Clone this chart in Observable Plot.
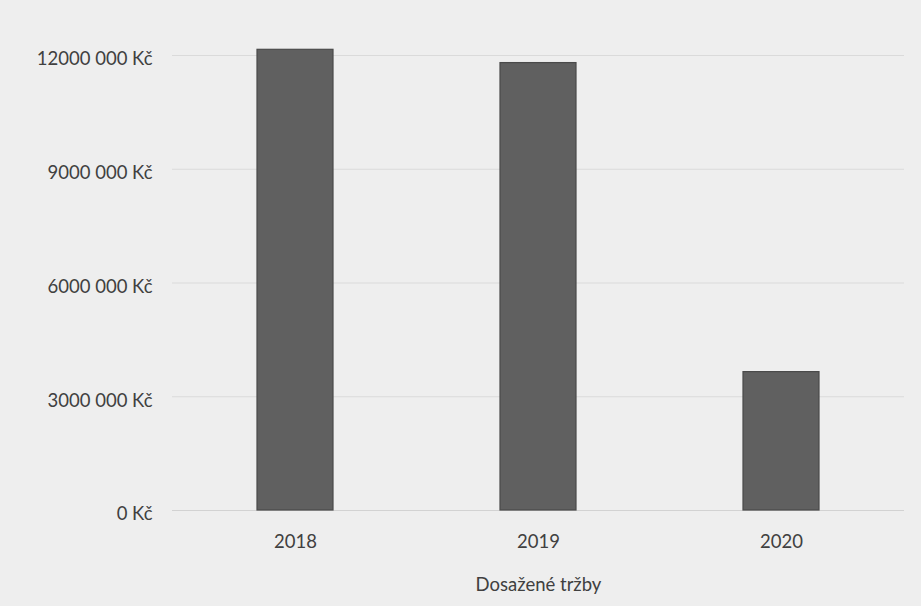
<!DOCTYPE html>
<html>
<head>
<meta charset="utf-8">
<script src="https://cdn.jsdelivr.net/npm/d3@7"></script>
<script src="https://cdn.jsdelivr.net/npm/@observablehq/plot@0.6"></script>
<style>
  html, body { margin: 0; padding: 0; background: #eeeeee; }
  #chart svg { display: block; }
</style>
</head>
<body>
<div id="chart"></div>
<script>
const years = ["2018", "2019", "2020"];
const revenue = [12150000, 11800000, 3650000];
const yTicks = [0, 3000000, 6000000, 9000000, 12000000];
const yTickLabels = ["0 Kč", "3000 000 Kč", "6000 000 Kč", "9000 000 Kč", "12000 000 Kč"];
const xTitle = "Dosažené tržby";

const data = years.map((y, i) => ({year: y, value: revenue[i]}));
const labelOf = new Map(yTicks.map((t, i) => [t, yTickLabels[i]]));

const chart = Plot.plot({
  width: 921,
  height: 606,
  marginLeft: 172,
  marginRight: 17,
  marginTop: 55,
  marginBottom: 96,
  style: {background: "#eeeeee", fontFamily: "Lato, 'Open Sans', sans-serif", fontSize: "18.5px", color: "#404040"},
  x: {domain: years, paddingInner: 0.689, paddingOuter: 0.345},
  y: {domain: [0, 12000000]},
  marks: [
    Plot.gridY(yTicks, {stroke: "#dadada", strokeOpacity: 1}),
    Plot.ruleY([0], {stroke: "#d2d2d2"}),
    Plot.barY(data, {x: "year", y: "value", fill: "#606060", stroke: "#4a4a4a", strokeWidth: 1.2}),
    Plot.axisY({ticks: yTicks, tickFormat: d => labelOf.get(d), tickSize: 0, tickPadding: 20, dy: 4, label: null, fill: "#404040"}),
    Plot.axisX({tickSize: 0, tickPadding: 24, label: xTitle, labelAnchor: "center", labelArrow: "none", labelOffset: 80, fill: "#404040"})
  ]
});
document.getElementById("chart").appendChild(chart);
</script>
</body>
</html>
